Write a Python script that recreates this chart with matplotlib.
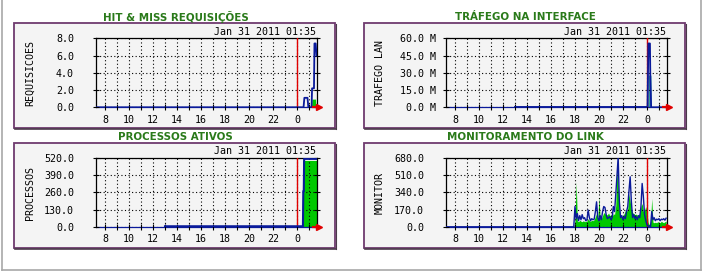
import numpy as np
import matplotlib
matplotlib.use("Agg")
import matplotlib.pyplot as plt
from matplotlib.patches import Rectangle
from matplotlib.lines import Line2D

W, H = 703, 271

titles = ["HIT & MISS REQUISIÇÕES", "TRÁFEGO NA INTERFACE", "PROCESSOS ATIVOS", "MONITORAMENTO DO LINK"]
ylabels = ["REQUISICOES", "TRAFEGO LAN", "PROCESSOS", "MONITOR"]
stamp = "Jan 31 2011 01:35"

hour_ticks = list(range(8, 26))
hour_labels = ["8", "", "10", "", "12", "", "14", "", "16", "", "18", "", "20", "", "22", "", "0", ""]

yticks1 = [0, 2, 4, 6, 8]
yticks2 = [0, 15, 30, 45, 60]
yticks3 = [0, 130, 260, 390, 520]
yticks4 = [0, 170, 340, 510, 680]
ylabels1 = ["0.0", "2.0", "4.0", "6.0", "8.0"]
ylabels2 = ["0.0 M", "15.0 M", "30.0 M", "45.0 M", "60.0 M"]
ylabels3 = ["0.0", "130.0", "260.0", "390.0", "520.0"]
ylabels4 = ["0.0", "170.0", "340.0", "510.0", "680.0"]

# hit & miss
h1_line = [7.29, 24.55, 24.62, 24.88, 24.95, 25.22, 25.26, 25.42, 25.46, 25.56, 25.63]
v1_line = [0, 0, 1.1, 1.1, 0, 0, 2.2, 2.2, 7.4, 7.4, 6.0]
h1_fill = [25.22, 25.25, 25.55, 25.58]
v1_fill = [0, 0.95, 0.95, 0]

# trafego (M)
h2_line = [13.0, 24.05, 24.12, 24.25, 24.28, 24.35, 25.63]
v2_line = [0.3, 0.3, 55.5, 55.5, 28, 0, 0]
h2_fill = [24.07, 24.1, 24.33, 24.36]
v2_fill = [0, 28, 28, 0]

# processos
h3_line = [13.0, 24.5, 24.53, 24.57, 24.6, 25.63]
v3_line = [4, 4, 268, 268, 512, 512]
h3_fill = [24.45, 24.47, 25.63]
v3_fill = [0, 500, 500]

# monitor, amostras a cada 0.1 h a partir de 17.8
h4 = np.round(np.arange(17.8, 25.65, 0.1), 2)
v4_line = [0, 0, 200, 80, 130, 60, 110, 70, 120, 80, 90, 60, 70, 165, 90, 60, 80, 70, 75, 150,
           246, 90, 60, 110, 70, 150, 200, 190, 120, 80, 90, 100, 70, 90, 200, 150, 320, 500, 690, 250,
           90, 110, 70, 100, 80, 150, 200, 350, 493, 250, 90, 120, 80, 100, 70, 110, 90, 200, 427, 300,
           120, 60, 20, 5, 10, 0, 150, 70, 90, 60, 75, 70, 80, 60, 75, 70, 80, 65, 85]
v4_fill = [0, 0, 60, 443, 55, 50, 65, 55, 50, 60, 50, 55, 55, 80, 60, 55, 65, 60, 70, 100,
           130, 70, 296, 90, 80, 110, 140, 130, 115, 120, 135, 110, 120, 100, 130, 120, 210, 575, 400, 160,
           110, 100, 110, 130, 160, 150, 180, 328, 250, 170, 140, 130, 120, 125, 115, 110, 140, 200, 230, 150,
           160, 200, 150, 40, 20, 50, 280, 45, 40, 45, 40, 50, 45, 40, 55, 45, 40, 50, 55]

GREEN = "#00c800"
BLUE = "#0a1a9a"
RED = "#e00000"
mono = "DejaVu Sans Mono"


def fx(x):
    return x / W


def fy(y):
    return 1 - y / H


fig = plt.figure(figsize=(W / 100, H / 100), dpi=100)
fig.patch.set_facecolor("white")

# moldura externa
for xs, ys in [([1.5, 1.5], [0, 269.5]), ([700.5, 700.5], [0, 269.5]), ([1.5, 700.5], [269.5, 269.5])]:
    fig.add_artist(Line2D([fx(x) for x in xs], [fy(y) for y in ys], color="#a8a8a8", lw=1.2))

panels = [
    (0, 0, yticks1, ylabels1, 8, 14.2),
    (350, 0, yticks2, ylabels2, 60, 5.5),
    (0, 119.5, yticks3, ylabels3, 520, 14.2),
    (350, 119.5, yticks4, ylabels4, 680, 14.2),
]

axes = []
for i, (ox, oy, yt, ytl, ymax, pad) in enumerate(panels):
    # caixa do painel
    fig.add_artist(Rectangle((fx(ox + 14), fy(oy + 128)), (335 - 14) / W, (128 - 23) / H,
                             transform=fig.transFigure, facecolor="#f4f4f4",
                             edgecolor="#6e3a6e", lw=1.3, zorder=0))
    fig.add_artist(Line2D([fx(ox + 15), fx(ox + 336)], [fy(oy + 129), fy(oy + 129)],
                          color="#4a3a4a", lw=1.2))
    fig.add_artist(Line2D([fx(ox + 336), fx(ox + 336)], [fy(oy + 24), fy(oy + 129)],
                          color="#4a3a4a", lw=0.8))

    fig.text(fx(ox + 175.5), fy(oy + 17), titles[i], ha="center", va="center",
             fontsize=7.4, fontweight="bold", color="#2a7a1a")
    fig.text(fx(ox + 316.5), fy(oy + 35), stamp, ha="right", va="baseline",
             fontsize=7.2, family=mono, color="black")
    fig.text(fx(ox + 30), fy(oy + 73), ylabels[i], ha="center", va="center",
             rotation=90, fontsize=7.2, family=mono, color="black")

    ax = fig.add_axes([fx(ox + 96.5), fy(oy + 107.3), 220 / W, 69 / H])
    ax.set_facecolor("none")
    ax.set_xlim(7.29, 25.63)
    ax.set_ylim(0, ymax)
    ax.set_xticks(hour_ticks)
    ax.set_xticklabels(hour_labels, family=mono, fontsize=7.2)
    ax.set_yticks(yt)
    ax.set_yticklabels(ytl, family=mono, fontsize=7.2)
    ax.tick_params(axis="x", direction="inout", length=4, width=0.8, pad=3.5)
    ax.tick_params(axis="y", direction="inout", length=4, width=0.8, pad=pad,
                   right=True)
    ax.set_axisbelow(False)
    ax.grid(True, color="black", lw=0.8, linestyle=(0, (1, 2.2)))
    for s in ["left", "top", "right"]:
        ax.spines[s].set_color("black")
        ax.spines[s].set_linewidth(0.9)
    ax.spines["bottom"].set_color(BLUE)
    ax.spines["bottom"].set_linewidth(0.9)
    ax.axvline(24, color=RED, lw=1.0, zorder=2.8)
    # seta vermelha no fim do eixo
    ax.plot([25.35, 25.85], [0, 0], color=RED, lw=1.6, clip_on=False, zorder=4)
    ax.plot([25.85], [0], marker=">", color=RED, ms=5, clip_on=False, zorder=4)
    axes.append(ax)

ax1, ax2, ax3, ax4 = axes

ax1.fill_between(h1_fill, v1_fill, color=GREEN, lw=0, zorder=1)
ax1.plot(h1_line, v1_line, color=BLUE, lw=1.3, zorder=3)

ax2.fill_between(h2_fill, v2_fill, color="#2f9f9f", lw=0, zorder=1)
ax2.plot(h2_line, v2_line, color=BLUE, lw=1.3, zorder=3)

ax3.fill_between(h3_fill, v3_fill, color=GREEN, lw=0, zorder=1)
ax3.plot(h3_line, v3_line, color=BLUE, lw=1.5, zorder=3)

ax4.fill_between(h4, v4_fill, color=GREEN, lw=0, zorder=1)
ax4.plot([7.29] + list(h4), [0] + v4_line, color=BLUE, lw=1.0, zorder=3)

fig.savefig("out.png", dpi=100, facecolor="white")
